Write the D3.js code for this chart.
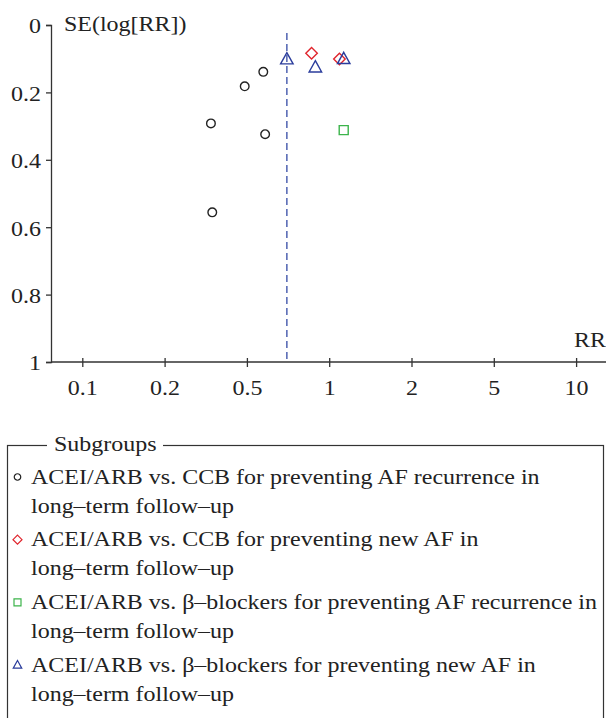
<!DOCTYPE html>
<html>
<head>
<meta charset="utf-8">
<script src="https://cdn.jsdelivr.net/npm/d3@7"></script>
<style>
  body { margin: 0; background: #fff; }
  svg text { font-family: "Liberation Serif", "DejaVu Serif", serif; fill: #222; }
</style>
</head>
<body>
<svg id="chart" width="606" height="718"></svg>
<script>
// tick values
const xTicks = [0.1, 0.2, 0.5, 1, 2, 5, 10];
const yTicks = [0, 0.2, 0.4, 0.6, 0.8, 1];
const pooledRR = 0.70;

// subgroups
const groups = [
    { key: 'ccbRecur', label: ['ACEI/ARB vs. CCB for preventing AF recurrence in', 'long\u2013term follow\u2013up'], shape: 'circle', color: '#222' },
    { key: 'ccbNew', label: ['ACEI/ARB vs. CCB for preventing new AF in', 'long\u2013term follow\u2013up'], shape: 'diamond', color: '#e0242c' },
    { key: 'betaRecur', label: ['ACEI/ARB vs. \u03b2\u2013blockers for preventing AF recurrence in', 'long\u2013term follow\u2013up'], shape: 'square', color: '#3cb44b' },
    { key: 'betaNew', label: ['ACEI/ARB vs. \u03b2\u2013blockers for preventing new AF in', 'long\u2013term follow\u2013up'], shape: 'triangle', color: '#2b3d9c' },
];

// study points: [RR, SE(log RR)]
const ccbRecur = [[0.574, 0.139], [0.488, 0.182], [0.335, 0.292], [0.583, 0.324], [0.340, 0.556]];
const ccbNew = [[0.862, 0.084], [1.09, 0.101]];
const betaRecur = [[1.13, 0.312]];
const betaNew = [[0.70, 0.102], [0.89, 0.126], [1.13, 0.101]];

const seriesData = { ccbRecur, ccbNew, betaRecur, betaNew };

const svg = d3.select('#chart');
const left = 51;
const step = 82.3;
const stretch = 1.09; // text in the figure is a little wide
const fontSize = 22;

// axis labels are evenly spaced, so use a piecewise log scale
const x = d3.scaleLog()
    .domain(xTicks)
    .range(xTicks.map((d, i) => step * (i + 1)));
const y = d3.scaleLinear().domain([0, 1]).range([25, 362]);

const axisColor = '#333';

function label(sel, px, py) {
    sel.attr('x', 0).attr('y', 0)
        .attr('transform', `translate(${px},${py}) scale(${stretch},1)`)
        .attr('font-size', fontSize)
        .attr('font-family', '"Liberation Serif", serif')
        .attr('fill', '#222');
}

// y axis
const gy = svg.append('g')
    .attr('transform', `translate(${left},0)`)
    .call(d3.axisLeft(y).tickValues(yTicks).tickSize(5).tickFormat((d) => d));
gy.select('.domain').attr('stroke', axisColor).attr('stroke-width', 1.3);
gy.selectAll('.tick line').attr('stroke', axisColor).attr('stroke-width', 1.3);
gy.selectAll('.tick text')
    .call(label, -10, 0)
    .attr('dy', '0.36em');

// x axis
const gx = svg.append('g')
    .attr('transform', `translate(0,${y(1)})`)
    .call(d3.axisBottom(x).tickValues(xTicks).tickSize(5).tickFormat((d) => d));
gx.select('.domain').remove();
gx.append('line')
    .attr('x1', left)
    .attr('x2', 606)
    .attr('stroke', axisColor)
    .attr('stroke-width', 1.3);
gx.selectAll('.tick line').attr('y1', -4).attr('y2', 5).attr('stroke', axisColor).attr('stroke-width', 1.3);
gx.selectAll('.tick text')
    .call(label, 0, 17)
    .attr('dy', '0.71em');

// axis titles
svg.append('text').call(label, 64, 31).text('SE(log[RR])');
svg.append('text').call(label, 606, 347).attr('text-anchor', 'end').text('RR');

// pooled estimate line
svg.append('line')
    .attr('x1', x(pooledRR))
    .attr('x2', x(pooledRR))
    .attr('y1', 33)
    .attr('y2', y(1))
    .attr('stroke', '#5a6cb6')
    .attr('stroke-width', 1.6)
    .attr('stroke-dasharray', '7,4');

function shapePath(shape, s) {
    if (shape === 'circle') return d3.symbol(d3.symbolCircle, s * s * 0.785)();
    if (shape === 'square') return `M${-s / 2},${-s / 2}h${s}v${s}h${-s}Z`;
    if (shape === 'diamond') return `M0,${-s / 2}L${s / 2},0L0,${s / 2}L${-s / 2},0Z`;
    // triangle
    const h = s * 0.9;
    return `M0,${-h * 0.6}L${s / 2},${h * 0.4}L${-s / 2},${h * 0.4}Z`;
}

const markerSize = { circle: 8.6, diamond: 11.5, square: 9, triangle: 12.5 };

groups.forEach((g) => {
    svg.append('g')
        .selectAll('path')
        .data(seriesData[g.key])
        .enter()
        .append('path')
        .attr('transform', (d) => `translate(${x(d[0])},${y(d[1])})`)
        .attr('d', shapePath(g.shape, markerSize[g.shape]))
        .attr('fill', 'none')
        .attr('stroke', g.color)
        .attr('stroke-width', 1.4);
});

// legend
const legend = svg.append('g');
legend.append('rect')
    .attr('x', 7.5)
    .attr('y', 445.5)
    .attr('width', 596)
    .attr('height', 290)
    .attr('fill', 'none')
    .attr('stroke', axisColor)
    .attr('stroke-width', 1.2);
legend.append('rect')
    .attr('x', 47)
    .attr('y', 432)
    .attr('width', 116)
    .attr('height', 24)
    .attr('fill', '#fff');
legend.append('text').call(label, 54, 451).text('Subgroups');

const legendMarker = { circle: 6.5, diamond: 9, square: 7, triangle: 8.5 };

const item = legend.selectAll('.item')
    .data(groups)
    .enter()
    .append('g')
    .attr('class', 'item')
    .attr('transform', (d, i) => `translate(0,${483.5 + i * 62.7})`);

item.append('path')
    .attr('transform', 'translate(17.5,-6.5)')
    .attr('d', (d) => shapePath(d.shape, legendMarker[d.shape]))
    .attr('fill', 'none')
    .attr('stroke', (d) => d.color)
    .attr('stroke-width', 1.2);

item.selectAll('text')
    .data((d) => d.label)
    .enter()
    .append('text')
    .each(function (d, i) {
        d3.select(this).call(label, 31, i * 29);
    })
    .text((d) => d);
</script>
</body>
</html>
